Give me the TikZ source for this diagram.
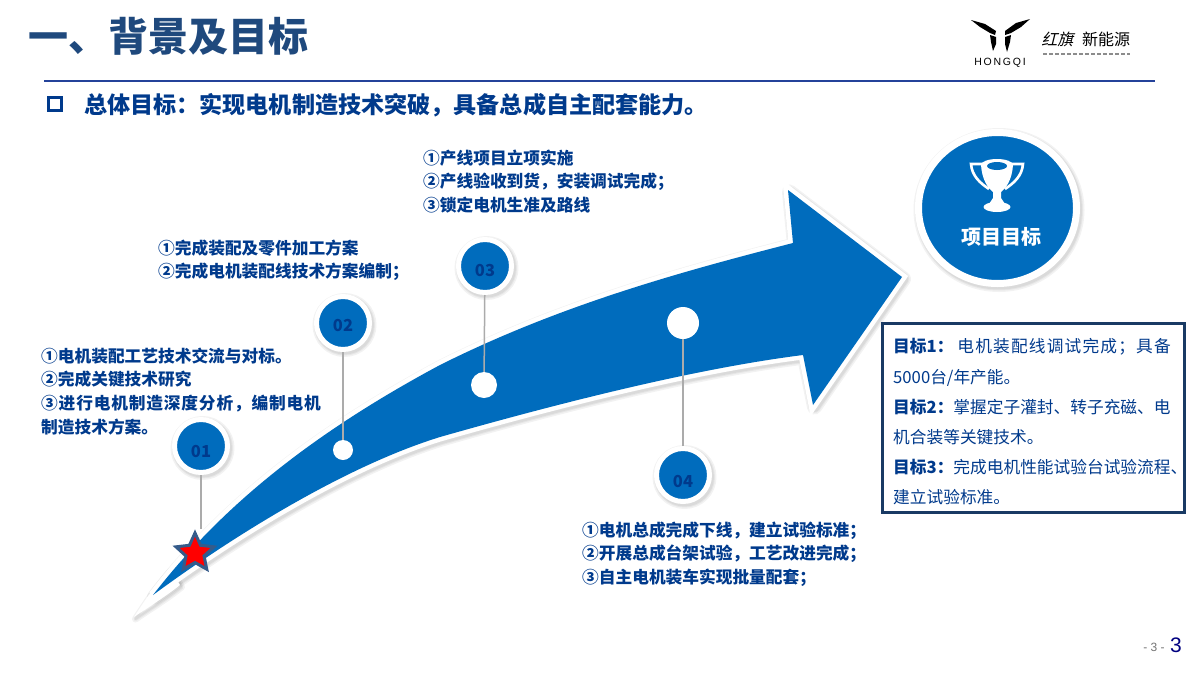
\documentclass[tikz,border=0pt]{standalone}
\usepackage{fontspec}
\setmainfont{Noto Sans CJK SC}
\newfontfamily\latinfont{Liberation Sans}
\usetikzlibrary{shapes.geometric}
\definecolor{hqblue}{HTML}{006CBD}
\definecolor{hqnavy}{HTML}{003A8C}
\definecolor{hqtitle}{HTML}{1F497D}
\definecolor{hqrule}{HTML}{24429A}
\newcommand{\fs}[1]{\fontsize{#1}{#1}\selectfont}
\newcommand{\arrowpath}{(153,595) .. controls (215,515) and (300,440) .. (440,365)
        .. controls (560,305) and (680,272) .. (793,243)
        -- (788,190) -- (902,277) -- (813,405) -- (803,355)
        .. controls (700,368) and (570,400) .. (440,437)
        .. controls (340,468) and (225,542) .. (153,595) -- cycle}
\tikzset{softlayer/.style={preaction={draw=black, draw opacity=.05, line join=round, line width=#1,
   transform canvas={shift={(1.5pt,-2pt)}}}}}
\tikzset{softshadow/.style={softlayer=#1+6pt, softlayer=#1+3pt, softlayer=#1+1pt}}
\tikzset{badge/.style={circle, draw=white, fill=hqblue, line width=5pt, minimum size=53pt, inner sep=0pt, softshadow=5pt,
   text=hqnavy, font=\fs{16.5}\bfseries}}
\tikzset{dot/.style={circle, fill=white, inner sep=0pt}}
\tikzset{stem/.style={draw=black!33, line width=1.5pt}}
\tikzset{note/.style={anchor=north west, align=left, inner sep=0pt, text=hqnavy,
   font=\fontsize{16.7}{23.7}\selectfont\bfseries}}
\begin{document}
\begin{tikzpicture}[x=1pt, y=-1pt]

    \useasboundingbox (0,0) rectangle (1200,675);

    \node[anchor=west, inner sep=0pt, text=hqtitle, font=\fs{40}\bfseries] (title) at (28,36) {一、背景及目标};
    \draw[draw=hqrule, line width=2pt] (44,81) -- (1155,81);
    \node[draw=hqnavy, line width=3pt, minimum size=13pt, inner sep=0pt] (bullet) at (55,104) {};
    \node[anchor=west, inner sep=0pt, text=hqnavy, font=\fs{23.1}\bfseries] (lead) at (84,105)
        {总体目标：实现电机制造技术突破，具备总成自主配套能力。};

    \fill (971,20) -- (985,24) -- (996,31) -- (995,35) -- (990,33) -- (980,27) -- cycle;
    \fill (990,35) -- (996,37) -- (996,44) -- (993,51) -- (991,42) -- cycle;
    \fill (1030,19) -- (1016,23) -- (1005,31) -- (1005,35) -- (1011,33) -- (1021,27) -- cycle;
    \fill (1011,35) -- (1005,37) -- (1005,44) -- (1007,52) -- (1010,42) -- cycle;
    \node[inner sep=0pt, font=\latinfont\fs{10.5}] (brand) at (1000,63) {H\,O\,N\,G\,Q\,I};
    \node[inner sep=0pt, xslant=.25, font=\fs{16}] (hongqi) at (1059,39) {红旗};
    \node[inner sep=0pt, font=\fs{16}] (xinnengyuan) at (1106,39) {新能源};
    \draw[black!45, line width=2.5pt, dash pattern=on 4pt off 2pt] (1043,54) -- (1130,54);

    \path[softshadow=9pt] \arrowpath;
    \path[softshadow=1pt, fill=white] (134,617) .. controls (145,600) and (155,585) .. (170,568) -- (180,585)
        .. controls (165,597) and (150,606) .. (134,617) -- cycle;
    \path[preaction={draw=white, line width=9pt, miter limit=4}, fill=hqblue] \arrowpath;

    \node[dot, minimum size=20pt] (d2) at (343,450) {};
    \node[dot, minimum size=26pt] (d3) at (484,385) {};
    \node[dot, minimum size=32pt] (d4) at (683,323) {};
    \node[star, star points=5, star point ratio=2.1, minimum size=40pt, inner sep=0pt, draw=hqtitle!90, fill=red,
        line width=3pt] (s1) at (195,553) {};

    \node[badge] (b1) at (201,446) {\raisebox{-11pt}[0pt][0pt]{01}};
    \node[badge] (b2) at (343,323) {\raisebox{-8pt}[0pt][0pt]{02}};
    \node[badge] (b3) at (485,266) {\raisebox{-10pt}[0pt][0pt]{03}};
    \node[badge] (b4) at (683,475) {\raisebox{-12pt}[0pt][0pt]{04}};

    \draw[stem] (b1) -- (b1 |- s1.north);
    \draw[stem] (b2) -- (d2);
    \draw[stem] (b3) -- (d3);
    \draw[stem] (b4) -- (d4);

    \node[note] (n1) at (41,347.5) {①电机装配工艺技术交流与对标。\\②完成关键技术研究\\{\addfontfeature{LetterSpace=5}③进行电机制造深度分析，编制电机}\\制造技术方案。};
    \node[note] (n2) at (158,239.5) {①完成装配及零件加工方案\\②完成电机装配线技术方案编制；};
    \node[note] (n3) at (423,149.5) {①产线项目立项实施\\②产线验收到货，安装调试完成；\\③锁定电机生准及路线};
    \node[note] (n4) at (582,521.5) {①电机总成完成下线，建立试验标准；\\②开展总成台架试验，工艺改进完成；\\③自主电机装车实现批量配套；};

    \node[ellipse, draw=white, fill=hqblue, line width=7pt, minimum width=158pt, minimum height=151pt, inner sep=0pt, softshadow=7pt] (goal) at (997.5,208) {};
    \draw[white, line width=2.6pt] (984,164) -- (971,164) .. controls (972,176) and (980,183) .. (989,189);
    \draw[white, line width=2.6pt] (1010,164) -- (1023,164) .. controls (1022,176) and (1014,183) .. (1005,189);
    \fill[white] (981,165) .. controls (982,180) and (988,188) .. (993,192) -- (993,198) -- (989,204)
        -- (1005,204) -- (1001,198) -- (1001,192) .. controls (1006,188) and (1012,180) .. (1013,165) -- cycle;
    \fill[white] (997,165) ellipse (16pt and 6pt);
    \fill[white] (997,207) ellipse (13.5pt and 5pt);
    \fill[hqblue] (997,166) ellipse (10pt and 4pt);
    \node[inner sep=0pt, text=white, font=\fs{20}\bfseries] (goaltext) at (1001,237) {项目目标};

    \node[draw=hqtitle!80!black, line width=3pt, fill=white, minimum width=302pt, minimum height=189pt, inner sep=0pt] (panel) at (1033,417.5) {};
    \node[anchor=north west, align=left, inner sep=0pt, text=hqnavy, font=\fontsize{16.7}{30.2}\selectfont] (goals) at (893,338.5)
        {\textbf{目标1：}\hspace{4pt}{\addfontfeature{LetterSpace=7}电机装配线调试完成；具备}\\5000台/年产能。\\\textbf{目标2：}掌握定子灌封、转子充磁、电\\机合装等关键技术。\\\textbf{目标3：}完成电机性能试验台试验流程、\\建立试验标准。};

    \node[inner sep=0pt, text=black!55, font=\latinfont\fs{12}] (pg) at (1154,647) {- 3 -};
    \node[inner sep=0pt, text=blue!50!black, font=\latinfont\fs{21}] (pgnum) at (1176,645) {3};

\end{tikzpicture}
\end{document}
